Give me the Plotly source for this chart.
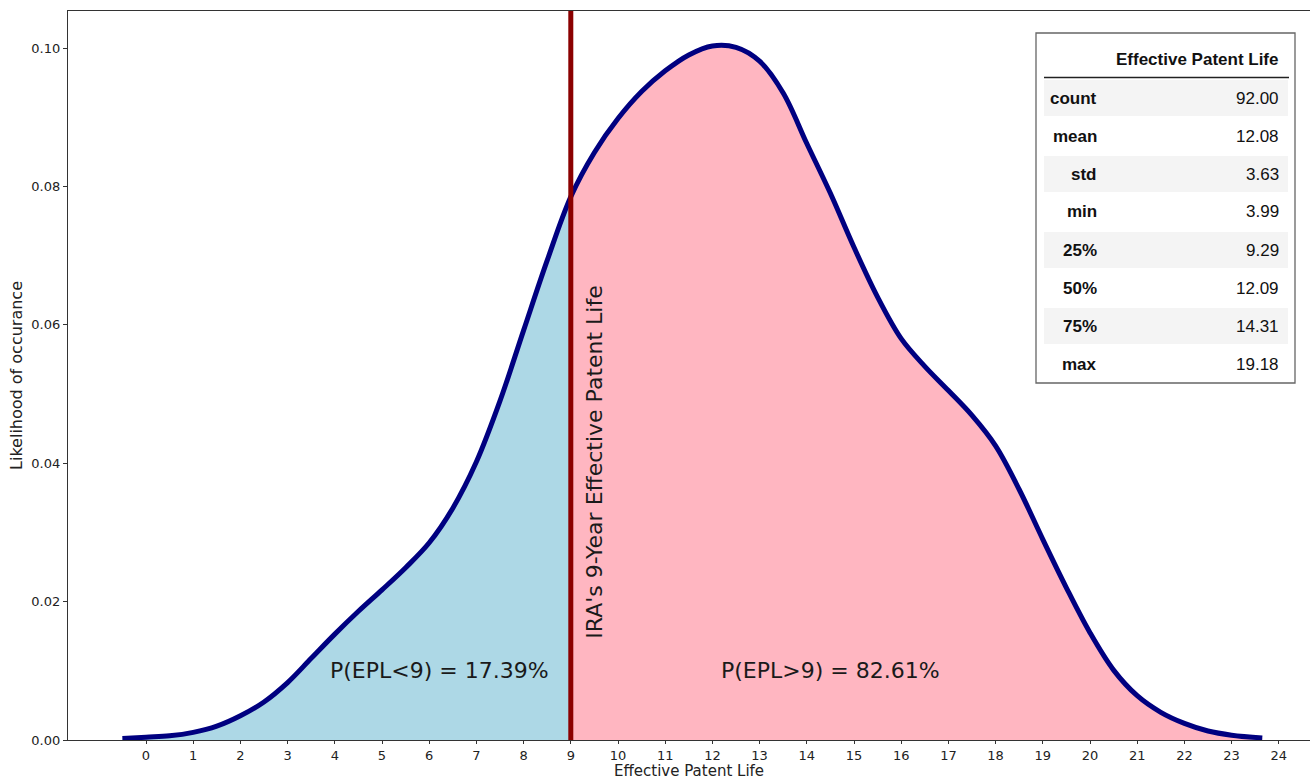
import plotly.graph_objects as go

# ---- data ----
x_vals = [-0.5, 0, 0.5, 1, 1.5, 2, 2.5, 3, 3.5, 4, 4.5, 5, 5.5, 6, 6.5, 7, 7.5, 8, 8.5, 9,
          9.5, 10, 10.5, 11, 11.5, 12, 12.5, 13, 13.5, 14, 14.5, 15, 15.5, 16, 16.5, 17,
          17.5, 18, 18.5, 19, 19.5, 20, 20.5, 21, 21.5, 22, 22.5, 23, 23.65]
density = [0.0002, 0.0004, 0.0006, 0.0011, 0.0020, 0.0035, 0.0055, 0.0083, 0.0118, 0.0153,
           0.0186, 0.0217, 0.0249, 0.0285, 0.0335, 0.0402, 0.0490, 0.0592, 0.0693, 0.0785,
           0.0849, 0.0898, 0.0937, 0.0967, 0.0990, 0.1003, 0.1001, 0.0981, 0.0935, 0.0862,
           0.0790, 0.0712, 0.0640, 0.0580, 0.0540, 0.0505, 0.0469, 0.0425, 0.0362, 0.0290,
           0.0220, 0.0155, 0.0101, 0.0064, 0.0040, 0.0024, 0.0013, 0.0007, 0.0003]
threshold = 9
x_ticks = list(range(0, 25))
y_ticks = [0.00, 0.02, 0.04, 0.06, 0.08, 0.10]
y_tick_labels = ["0.00", "0.02", "0.04", "0.06", "0.08", "0.10"]

label_below = "P(EPL<9) = 17.39%"
label_above = "P(EPL>9) = 82.61%"
vline_label = "IRA's 9-Year Effective Patent Life"
x_title = "Effective Patent Life"
y_title = "Likelihood of occurance"

table_header = "Effective Patent Life"
stat_names = ["count", "mean", "std", "min", "25%", "50%", "75%", "max"]
stat_values = ["92.00", "12.08", "3.63", "3.99", "9.29", "12.09", "14.31", "19.18"]

# ---- figure ----
W, H = 1310, 780
ML, MR, MT, MB = 68, 0, 11, 40
PW, PH = W - ML - MR, H - MT - MB


def px(p):
    return (p - ML) / PW


def py(p):
    return (H - MB - p) / PH


lx = [x for x in x_vals if x <= threshold]
ly = [d for x, d in zip(x_vals, density) if x <= threshold]
rx = [x for x in x_vals if x >= threshold]
ry = [d for x, d in zip(x_vals, density) if x >= threshold]

fig = go.Figure()
fig.add_trace(go.Scatter(x=lx, y=ly, mode="lines", line=dict(width=0, shape="spline"),
                         fill="tozeroy", fillcolor="#ADD8E6", hoverinfo="skip", showlegend=False))
fig.add_trace(go.Scatter(x=rx, y=ry, mode="lines", line=dict(width=0, shape="spline"),
                         fill="tozeroy", fillcolor="#FFB6C1", hoverinfo="skip", showlegend=False))
fig.add_trace(go.Scatter(x=x_vals, y=density, mode="lines",
                         line=dict(color="#000080", width=5, shape="spline"), showlegend=False))

fig.add_shape(type="line", xref="x", yref="paper", x0=threshold, x1=threshold, y0=0, y1=1,
              line=dict(color="#8B0000", width=5), layer="above")

txt_font = dict(family="DejaVu Sans", size=22, color="#1a1a1a")
fig.add_annotation(x=9.51, y=0.0402, xref="x", yref="y", text=vline_label, textangle=-90,
                   showarrow=False, font=txt_font)
fig.add_annotation(x=6.22, y=0.0101, xref="x", yref="y", text=label_below,
                   showarrow=False, font=txt_font)
fig.add_annotation(x=14.5, y=0.0101, xref="x", yref="y", text=label_above,
                   showarrow=False, font=txt_font)

# axis title (x) as annotation just below the tick labels
fig.add_annotation(x=0.5, y=py(782), xref="paper", yref="paper", text=x_title,
                   xanchor="center", yanchor="bottom", showarrow=False,
                   font=dict(family="DejaVu Sans", size=15, color="#222222"))

# ---- describe() table ----
box_l, box_r, box_t, box_b = 1036, 1295, 33, 383
fig.add_shape(type="rect", xref="paper", yref="paper", x0=px(box_l), x1=px(box_r),
              y0=py(box_b), y1=py(box_t), line=dict(color="#666666", width=1.3),
              fillcolor="white", layer="above")
row_y0 = 98
row_step = 38.0
band_l, band_r = 1044, 1288
for i in range(len(stat_names)):
    cy = row_y0 + i * row_step
    if i % 2 == 0:
        top = max(cy - 18, 80)
        fig.add_shape(type="rect", xref="paper", yref="paper", x0=px(band_l), x1=px(band_r),
                      y0=py(cy + 18), y1=py(top), line=dict(width=0),
                      fillcolor="#f4f4f4", layer="above")
fig.add_shape(type="line", xref="paper", yref="paper", x0=px(band_l), x1=px(1289),
              y0=py(77.5), y1=py(77.5), line=dict(color="#222222", width=1.5), layer="above")

tfont = dict(family="Liberation Sans, Arial", size=17, color="#111111")
fig.add_annotation(x=px(1281), y=py(59), xref="paper", yref="paper", text="<b>" + table_header + "</b>",
                   xanchor="right", yanchor="middle", showarrow=False, font=tfont)
for i, (n, v) in enumerate(zip(stat_names, stat_values)):
    cy = row_y0 + i * row_step
    fig.add_annotation(x=px(1099), y=py(cy), xref="paper", yref="paper", text="<b>" + n + "</b>",
                       xanchor="right", yanchor="middle", showarrow=False, font=tfont)
    fig.add_annotation(x=px(1281), y=py(cy), xref="paper", yref="paper", text=v,
                       xanchor="right", yanchor="middle", showarrow=False, font=tfont)

tick_font = dict(family="DejaVu Sans", size=13, color="#222222")
fig.update_layout(
    width=W, height=H,
    margin=dict(l=ML, r=MR, t=MT, b=MB),
    paper_bgcolor="white", plot_bgcolor="white",
    showlegend=False,
    xaxis=dict(range=[(ML - 146) / 47.2, (W - MR - 146) / 47.2], tickvals=x_ticks,
               ticktext=[str(t) for t in x_ticks], ticks="outside", ticklen=3, tickwidth=1,
               tickcolor="#333333", showline=True, linecolor="#333333", linewidth=1.2,
               mirror=True, showgrid=False, zeroline=False, tickfont=tick_font),
    yaxis=dict(range=[0, (H - MB - MT) / 6920.0], tickvals=y_ticks, ticktext=y_tick_labels,
               ticks="outside", ticklen=4, tickwidth=1, tickcolor="#333333",
               showline=True, linecolor="#333333", linewidth=1.2, mirror=False,
               showgrid=False, zeroline=False, tickfont=tick_font,
               title=dict(text=y_title, standoff=4,
                          font=dict(family="DejaVu Sans", size=16, color="#222222"))),
)

fig.write_html("out.html", config={"displayModeBar": False},
               post_script="document.body.style.margin='0';document.body.style.overflow='hidden';")
